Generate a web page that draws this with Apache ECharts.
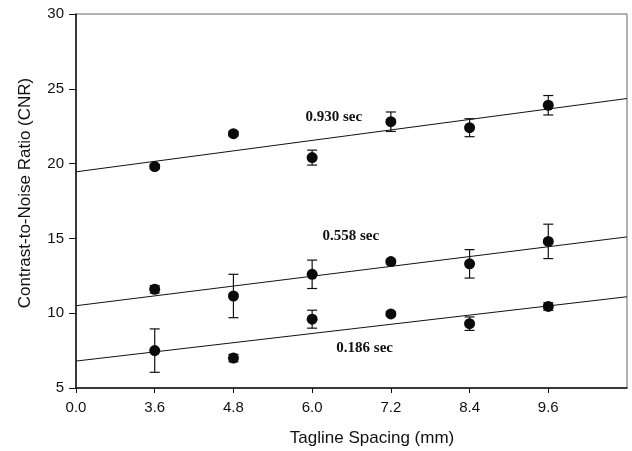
<!DOCTYPE html>
<html>
<head>
<meta charset="utf-8">
<script src="https://cdn.jsdelivr.net/npm/echarts@6/dist/echarts.min.js"></script>
<style>
  html, body { margin: 0; padding: 0; background: #fff; }
  #chart { width: 632px; height: 451px; }
</style>
</head>
<body>
<div id="chart"></div>
<script>
// tagline spacing (mm) of the measured points
var spacing = [3.6, 4.8, 6.0, 7.2, 8.4, 9.6];
// x tick labels (axis starts at 0.0, then jumps to 3.6)
var xTickLabels = ['0.0', '3.6', '4.8', '6.0', '7.2', '8.4', '9.6'];

// CNR means and error (+/-) per delay time
var cnr930 = [19.8, 22.0, 20.4, 22.8, 22.4, 23.9];
var err930 = [0.15, 0.15, 0.5, 0.65, 0.6, 0.65];
var cnr558 = [11.6, 11.15, 12.6, 13.45, 13.3, 14.8];
var err558 = [0.25, 1.45, 0.95, 0.15, 0.95, 1.15];
var cnr186 = [7.5, 7.0, 9.6, 9.95, 9.3, 10.45];
var err186 = [1.45, 0.25, 0.6, 0.15, 0.45, 0.25];

// fitted lines, end points
var fit930 = [[2.4, 19.45], [10.8, 24.35]];
var fit558 = [[2.4, 10.5], [10.8, 15.1]];
var fit186 = [[2.4, 6.8], [10.8, 11.1]];

var chart = echarts.init(document.getElementById('chart'));

function points(ys) {
  var out = [];
  for (var i = 0; i < spacing.length; i++) out.push([spacing[i], ys[i]]);
  return out;
}
function bars(ys, es) {
  var out = [];
  for (var i = 0; i < spacing.length; i++) out.push([spacing[i], ys[i] - es[i], ys[i] + es[i]]);
  return out;
}

function renderErr(params, api) {
  var lo = api.coord([api.value(0), api.value(1)]);
  var hi = api.coord([api.value(0), api.value(2)]);
  var w = 5;
  var st = { stroke: '#111', lineWidth: 1.2 };
  return {
    type: 'group',
    children: [
      { type: 'line', shape: { x1: lo[0], y1: lo[1], x2: hi[0], y2: hi[1] }, style: st },
      { type: 'line', shape: { x1: lo[0] - w, y1: lo[1], x2: lo[0] + w, y2: lo[1] }, style: st },
      { type: 'line', shape: { x1: hi[0] - w, y1: hi[1], x2: hi[0] + w, y2: hi[1] }, style: st }
    ]
  };
}

function errSeries(ys, es) {
  return { type: 'custom', renderItem: renderErr, data: bars(ys, es), z: 3, silent: true };
}
function dotSeries(ys) {
  return {
    type: 'scatter', data: points(ys), symbol: 'circle', symbolSize: 11,
    itemStyle: { color: '#0a0a0a', opacity: 1 }, z: 5
  };
}
function fitSeries(d, label, lx, ly) {
  return {
    type: 'line', data: d, showSymbol: false, silent: true,
    lineStyle: { color: '#111', width: 1 }, z: 2,
    markPoint: {
      symbol: 'circle', symbolSize: 0,
      label: {
        show: true, formatter: label, color: '#111',
        fontFamily: 'Liberation Serif', fontWeight: 'bold', fontSize: 15
      },
      data: [{ coord: [lx, ly] }]
    }
  };
}

var option = {
  animation: false,
  grid: {
    left: 76, top: 14, right: 5, bottom: 63,
    show: true, borderColor: '#666', borderWidth: 1
  },
  xAxis: {
    type: 'value', min: 2.4, max: 10.8, interval: 1.2,
    axisLine: { show: true, lineStyle: { color: '#111', width: 1.5 } },
    axisTick: { show: true, length: 5, lineStyle: { color: '#111' } },
    splitLine: { show: false },
    axisLabel: {
      margin: 12, color: '#111', fontFamily: 'Liberation Sans', fontSize: 15,
      showMaxLabel: false,
      formatter: function (v) {
        var k = Math.round((v - 2.4) / 1.2);
        return xTickLabels[k] || '';
      }
    }
  },
  yAxis: {
    type: 'value', min: 5, max: 30, interval: 5,
    axisLine: { show: true, lineStyle: { color: '#111', width: 1.5 } },
    axisTick: { show: true, length: 7, lineStyle: { color: '#111' } },
    splitLine: { show: false },
    axisLabel: { margin: 12, color: '#111', fontFamily: 'Liberation Sans', fontSize: 15 }
  },
  graphic: [{
    type: 'text', x: 25, y: 193, rotation: Math.PI / 2,
    style: {
      text: 'Contrast-to-Noise Ratio (CNR)', fill: '#111',
      font: '17px "Liberation Sans"', align: 'center', verticalAlign: 'middle'
    }
  }, {
    type: 'text', x: 372, y: 438,
    style: {
      text: 'Tagline Spacing (mm)', fill: '#111',
      font: '17px "Liberation Sans"', align: 'center', verticalAlign: 'middle'
    }
  }],
  series: [
    fitSeries(fit930, '0.930 sec', 6.33, 23.1),
    fitSeries(fit558, '0.558 sec', 6.59, 15.17),
    fitSeries(fit186, '0.186 sec', 6.8, 7.68),
    errSeries(cnr930, err930),
    errSeries(cnr558, err558),
    errSeries(cnr186, err186),
    dotSeries(cnr930),
    dotSeries(cnr558),
    dotSeries(cnr186)
  ]
};

chart.setOption(option);
</script>
</body>
</html>
